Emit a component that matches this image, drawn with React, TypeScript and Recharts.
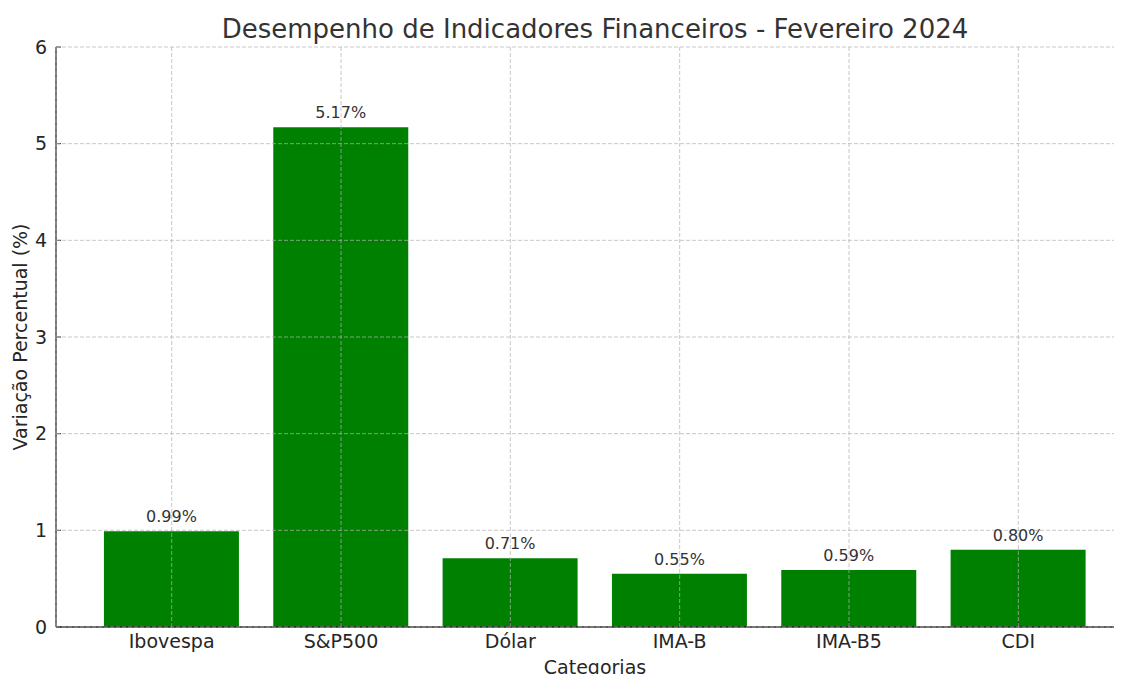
import { BarChart, Bar, XAxis, YAxis, CartesianGrid, LabelList } from "recharts"

const categorias = ["Ibovespa", "S&P500", "Dólar", "IMA-B", "IMA-B5", "CDI"]
const variacoes = [0.99, 5.17, 0.71, 0.55, 0.59, 0.8]
const ticksY = [0, 1, 2, 3, 4, 5, 6]

const dados = categorias.map((categoria, i) => ({
  categoria,
  variacao: variacoes[i],
}))

const fonte = '"DejaVu Sans", sans-serif'

export default function App() {
  return (
    <div
      style={{
        width: 1106,
        height: 666,
        overflow: "hidden",
        position: "relative",
        fontFamily: fonte,
      }}
    >
      <div
        style={{
          position: "absolute",
          left: 0,
          width: 1174,
          top: 4,
          textAlign: "center",
          fontSize: 26,
          color: "#333333",
          lineHeight: "34px",
        }}
      >
        Desempenho de Indicadores Financeiros - Fevereiro 2024
      </div>
      <BarChart
        width={1126}
        height={666}
        data={dados}
        margin={{ top: 39, right: 0, left: 0, bottom: 0 }}
        barCategoryGap="10%"
      >
        <Bar dataKey="variacao" fill="#008000" isAnimationActive={false}>
          <LabelList
            dataKey="variacao"
            position="top"
            offset={9}
            formatter={(v: number) => `${v.toFixed(2)}%`}
            style={{ fontSize: 16, fill: "#333333", fontFamily: fonte }}
          />
        </Bar>
        <CartesianGrid
          stroke="#b0b0b0"
          strokeOpacity={0.7}
          strokeDasharray="4 2"
          zIndex={600}
        />
        <XAxis
          dataKey="categoria"
          height={47}
          padding={{ left: 31, right: 31 }}
          tickSize={-5}
          tickMargin={13}
          axisLine={{ stroke: "#262626", strokeWidth: 1.3 }}
          tickLine={{ stroke: "#262626" }}
          tick={{ fontSize: 19, fill: "#262626", fontFamily: fonte }}
          label={{
            value: "Categorias",
            position: "insideBottom",
            offset: 0,
            style: { fontSize: 19, fill: "#262626", fontFamily: fonte },
          }}
        />
        <YAxis
          width={48}
          domain={[0, 6]}
          ticks={ticksY}
          interval={0}
          tickSize={-5}
          tickMargin={14}
          axisLine={{ stroke: "#262626", strokeWidth: 1.3 }}
          tickLine={{ stroke: "#262626" }}
          tick={{ fontSize: 19, fill: "#262626", fontFamily: fonte }}
          label={{
            value: "Variação Percentual (%)",
            angle: -90,
            position: "insideLeft",
            offset: 12,
            style: { fontSize: 19, fill: "#262626", fontFamily: fonte, textAnchor: "middle" },
          }}
        />
      </BarChart>
    </div>
  )
}
